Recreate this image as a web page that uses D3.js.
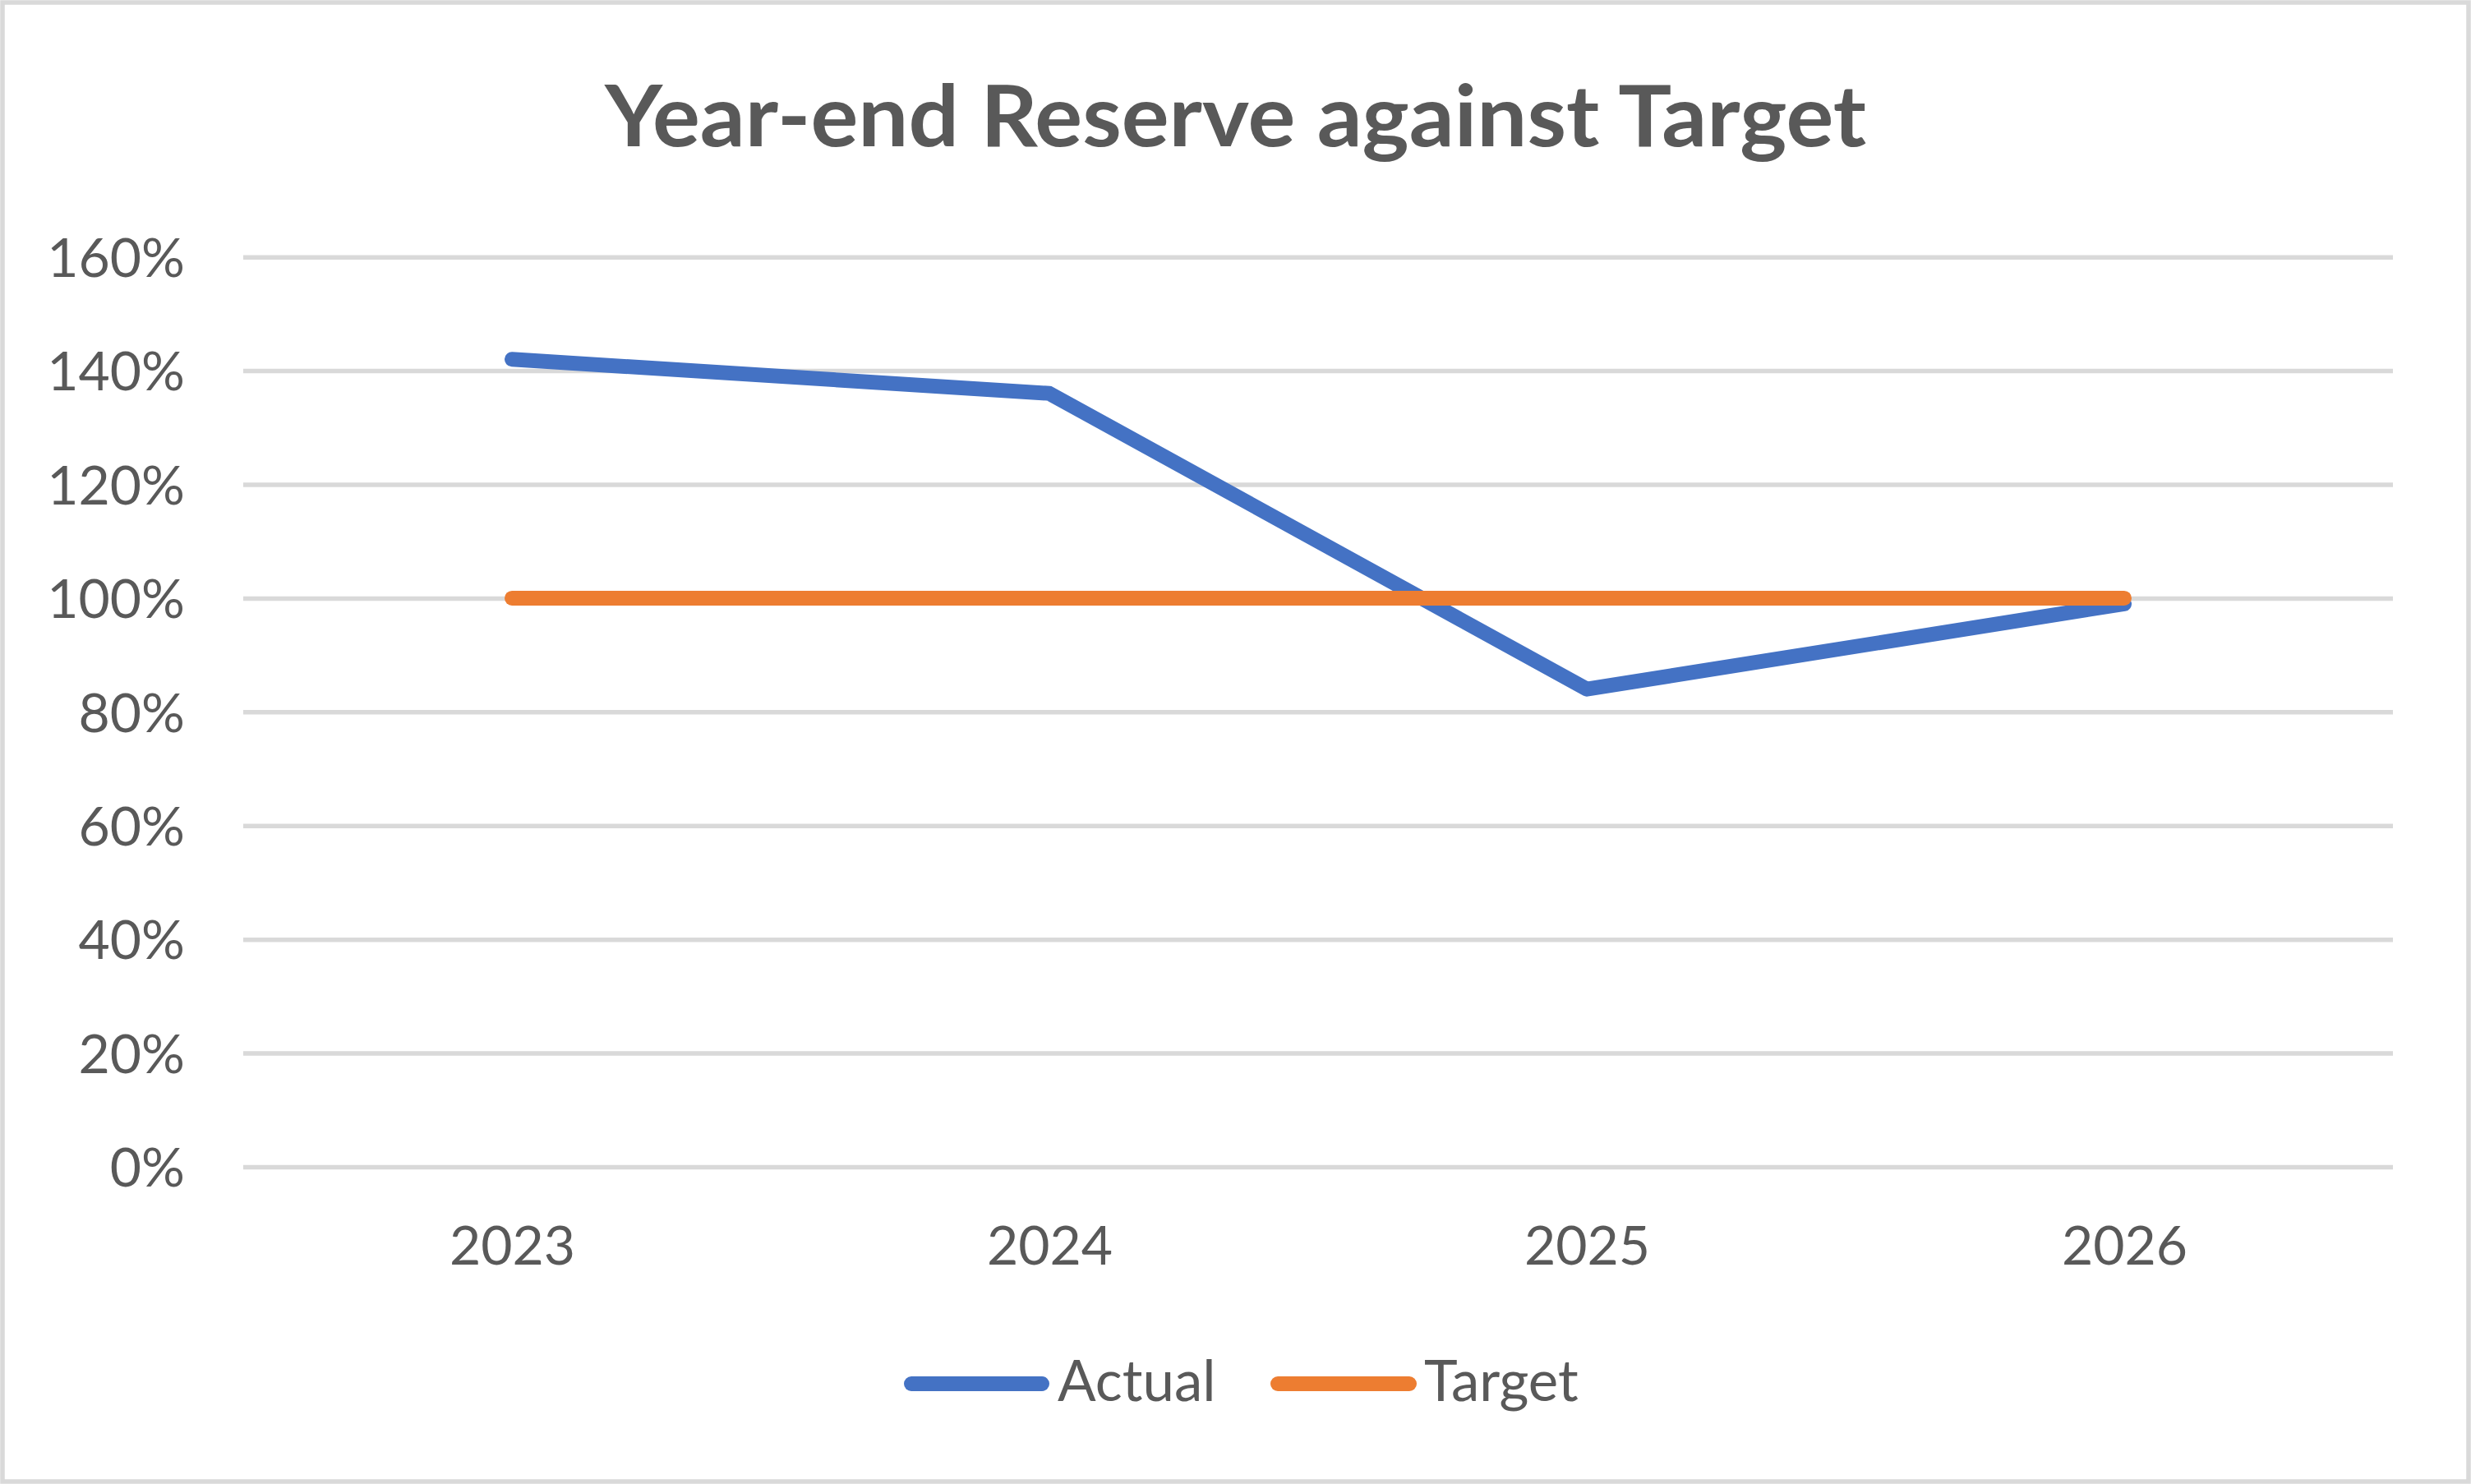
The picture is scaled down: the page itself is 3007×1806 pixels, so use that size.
<!DOCTYPE html>
<html>
<head>
<meta charset="utf-8">
<script src="https://cdn.jsdelivr.net/npm/d3@7"></script>
<style>
  html, body { margin: 0; padding: 0; background: #fff; }
  svg { display: block; }
</style>
</head>
<body>
<script>
// ---- Data ----
const categories = ["2023", "2024", "2025", "2026"];
const actualValues = [1.42, 1.36, 0.84, 0.99];
const targetValues = [1.00, 1.00, 1.00, 1.00];
const yTickValues = [0, 0.2, 0.4, 0.6, 0.8, 1.0, 1.2, 1.4, 1.6];
const seriesNames = ["Actual", "Target"];
const titleText = "Year-end Reserve against Target";

// ---- Layout ----
const W = 3007, H = 1806;
const plot = { left: 296, right: 2912, top: 312.7, bottom: 1420 };
const textColor = "#595959";
const gridColor = "#D9D9D9";
const colors = { Actual: "#4472C4", Target: "#ED7D31" };
const FONT = "Lato, 'Open Sans', 'Noto Sans', sans-serif";

const svg = d3.select("body").append("svg")
  .attr("width", W).attr("height", H);

svg.append("rect").attr("x", 0).attr("y", 0).attr("width", W).attr("height", H).attr("fill", "#fff");
svg.append("rect")
  .attr("x", 3).attr("y", 3).attr("width", W - 6).attr("height", H - 6)
  .attr("fill", "none").attr("stroke", gridColor).attr("stroke-width", 5.5);

const x = d3.scalePoint().domain(categories).range([plot.left, plot.right]).padding(0.5);
const y = d3.scaleLinear().domain([0, 1.6]).range([plot.bottom, plot.top]);

// Y axis with gridlines
const yAxis = svg.append("g")
  .attr("transform", `translate(${plot.left},0)`)
  .call(d3.axisLeft(y).tickValues(yTickValues).tickFormat(d3.format(".0%"))
    .tickSize(-(plot.right - plot.left)).tickPadding(71));
yAxis.select(".domain").remove();
yAxis.selectAll(".tick line").attr("stroke", gridColor).attr("stroke-width", 5.5);
yAxis.selectAll(".tick text")
  .attr("fill", textColor).attr("font-family", FONT).attr("font-size", 66)
  .attr("dy", "0.36em");

// X axis labels
const xAxis = svg.append("g")
  .attr("transform", `translate(0,${plot.bottom})`)
  .call(d3.axisBottom(x).tickSize(0).tickPadding(72));
xAxis.select(".domain").remove();
xAxis.selectAll(".tick text")
  .attr("fill", textColor).attr("font-family", FONT).attr("font-size", 66)
  .attr("dy", "0.71em");

// Lines
const line = d3.line().x((d, i) => x(categories[i])).y(d => y(d));
const seriesData = { Actual: actualValues, Target: targetValues };
["Actual", "Target"].forEach(name => {
  svg.append("path")
    .datum(seriesData[name])
    .attr("d", line)
    .attr("fill", "none")
    .attr("stroke", colors[name])
    .attr("stroke-width", 18)
    .attr("stroke-linecap", "round")
    .attr("stroke-linejoin", "round");
});

// Title
svg.append("text")
  .attr("x", W / 2).attr("y", 178)
  .attr("text-anchor", "middle")
  .attr("fill", textColor)
  .attr("font-family", FONT)
  .attr("font-weight", "bold")
  .attr("font-size", 104)
  .attr("textLength", 1535)
  .attr("lengthAdjust", "spacingAndGlyphs")
  .text(titleText);

// Legend
const legendItems = [
  { name: seriesNames[0], x1: 1109, x2: 1268, tx: 1287 },
  { name: seriesNames[1], x1: 1555, x2: 1715, tx: 1733 }
];
const lg = svg.append("g");
legendItems.forEach(it => {
  lg.append("line")
    .attr("x1", it.x1).attr("x2", it.x2).attr("y1", 1684).attr("y2", 1684)
    .attr("stroke", colors[it.name]).attr("stroke-width", 18).attr("stroke-linecap", "round");
  lg.append("text")
    .attr("x", it.tx).attr("y", 1705)
    .attr("fill", textColor).attr("font-family", FONT).attr("font-size", 69)
    .text(it.name);
});
</script>
</body>
</html>
